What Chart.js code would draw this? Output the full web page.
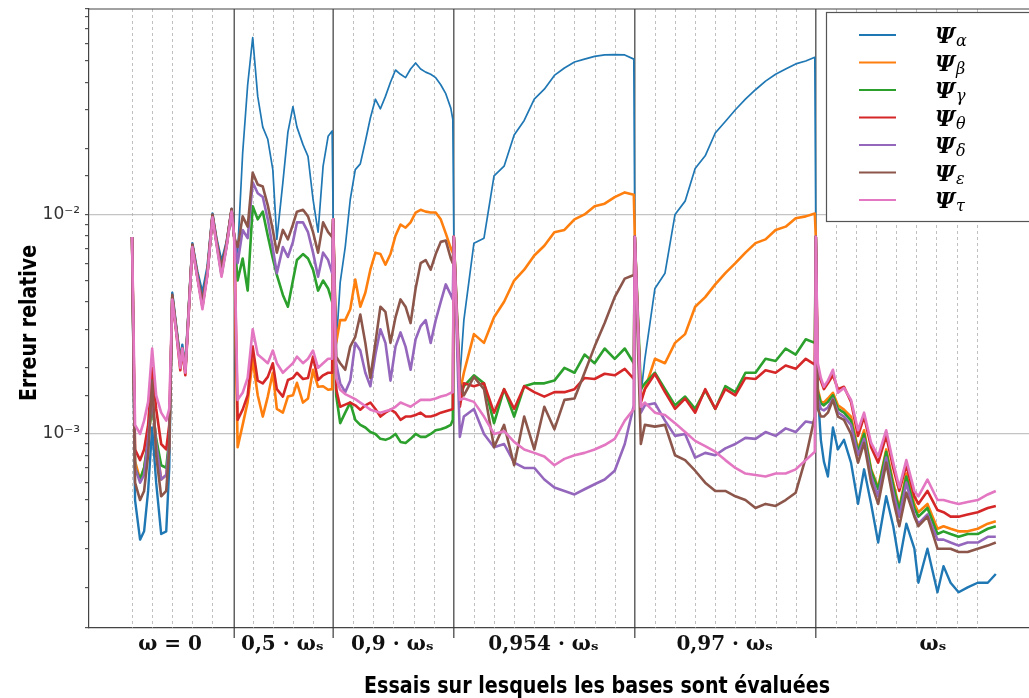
<!DOCTYPE html>
<html>
<head>
<meta charset="utf-8">
<title>Erreur relative des bases</title>
<script src="https://cdn.jsdelivr.net/npm/chart.js@4.4.1/dist/chart.umd.min.js"></script>
<style>
  html, body { margin: 0; padding: 0; background: #fff; }
  canvas { display: block; }
</style>
</head>
<body>
<canvas id="errChart" width="1029" height="698"></canvas>
<script>
// x position of every sample, in "essai" units (one dashed line = one essai)
const essai = [
  0, 0.15, 0.4, 0.6, 0.8, 1.0, 1.2, 1.45, 1.7, 1.85, 2.0, 2.2, 2.4, 2.5, 2.65, 3.0, 3.25, 3.5, 3.75, 4.0, 4.2, 4.45, 4.7, 4.95,
  5.08, 5.25, 5.5, 5.75, 6.0, 6.25, 6.5, 6.75, 7.0, 7.2, 7.5, 7.75, 8.0, 8.2, 8.5, 8.75, 9.0, 9.25, 9.5, 9.75, 9.95,
  10.0, 10.15, 10.35, 10.6, 10.85, 11.1, 11.35, 11.6, 11.85, 12.1, 12.35, 12.6, 12.85, 13.1, 13.35, 13.6, 13.85, 14.1, 14.35, 14.6, 14.85, 15.1, 15.35, 15.6, 15.85, 15.95,
  16.0, 16.3, 16.5, 17.0, 17.5, 18.0, 18.5, 19.0, 19.5, 20.0, 20.5, 21.0, 21.5, 22.0, 22.5, 23.0, 23.5, 24.0, 24.5, 24.95,
  25.0, 25.3, 25.5, 26.0, 26.5, 27.0, 27.5, 28.0, 28.5, 29.0, 29.5, 30.0, 30.5, 31.0, 31.5, 32.0, 32.5, 33.0, 33.5, 33.95,
  34.0, 34.1, 34.25, 34.4, 34.6, 34.85, 35.1, 35.4, 35.75, 36.1, 36.4, 36.75, 37.1, 37.5, 37.85, 38.15, 38.5, 38.9, 39.1, 39.55, 40.05, 40.35, 40.7, 41.1, 41.55, 42.05, 42.55, 42.95
];

// relative error of each basis, in units of 1e-3
const psiAlpha = [
  7.9, 0.5, 0.33, 0.36, 0.55, 1.07, 0.6, 0.35, 0.36, 0.7, 4.4, 3.1, 2.2, 2.55, 2.05, 7.4, 5.5, 4.4, 5.8, 10.1, 7.8, 6.1, 7.5, 10.6,
  7.9, 6.7, 19, 39, 64, 34.5, 25, 22, 16, 7.7, 14, 23.7, 31, 25, 20.8, 18.4, 11.7, 8.3, 16.6, 22.7, 24,
  9.5, 2.5, 4.9, 7.1, 11.7, 16.0, 17.0, 21.5, 27.5, 33.5, 30.3, 34.5, 40.0, 45.5, 43.5, 42.0, 46.0, 49.0, 46.0, 44.5, 43.5, 42.0, 39.0, 35.5, 30.5, 27.1,
  7.9, 1.8, 3.3, 7.4, 7.8, 15.0, 16.6, 23.0, 26.8, 33.5, 37.2, 43.0, 46.5, 49.5, 51.0, 52.5, 53.3, 53.5, 53.3, 51.0,
  7.9, 1.5, 2.2, 4.6, 5.4, 10.0, 11.5, 16.2, 18.5, 23.5, 26.5, 30.0, 33.5, 37.0, 40.5, 43.5, 46.0, 48.5, 50.0, 52.0,
  7.9, 1.54, 0.94, 0.75, 0.64, 1.07, 0.85, 0.94, 0.74, 0.48, 0.69, 0.48, 0.32, 0.52, 0.38, 0.26, 0.39, 0.3, 0.21, 0.3, 0.19, 0.25, 0.21, 0.19, 0.2, 0.21, 0.21, 0.23
];
const psiBeta = [
  7.9, 0.75, 0.62, 0.7, 0.9, 1.5, 0.9, 0.62, 0.65, 0.9, 4.2, 3.0, 2.1, 2.45, 1.95, 7.2, 5.2, 3.9, 5.4, 9.8, 7.5, 5.5, 7.2, 10.4,
  7.9, 0.87, 1.1, 1.4, 2.18, 1.5, 1.2, 1.48, 1.9, 1.3, 1.25, 1.48, 1.5, 1.71, 1.39, 1.45, 1.96, 1.64, 1.65, 1.59, 1.6,
  9.5, 2.6, 3.3, 3.3, 3.7, 5.05, 3.8, 4.4, 5.6, 6.7, 6.6, 5.9, 6.6, 8.0, 9.0, 8.7, 9.2, 10.2, 10.5, 10.3, 10.2, 10.2, 9.5, 8.2, 7.0, 6.7,
  7.9, 1.55, 1.9, 2.85, 2.6, 3.4, 4.0, 5.0, 5.6, 6.5, 7.2, 8.3, 8.5, 9.5, 10.0, 10.9, 11.2, 12.0, 12.6, 12.3,
  7.9, 1.43, 1.6, 2.2, 2.1, 2.6, 2.85, 3.8, 4.2, 4.8, 5.4, 6.0, 6.7, 7.4, 7.7, 8.5, 8.8, 9.6, 9.8, 10.1,
  7.9, 1.6, 1.4, 1.39, 1.45, 1.54, 1.35, 1.29, 1.2, 0.85, 1.04, 0.69, 0.57, 0.85, 0.6, 0.46, 0.66, 0.48, 0.44, 0.48, 0.37, 0.38, 0.37, 0.36, 0.36, 0.37, 0.39, 0.4
];
const psiGamma = [
  7.9, 0.7, 0.62, 0.7, 0.95, 1.35, 0.95, 0.72, 0.7, 0.95, 4.2, 3.0, 2.1, 2.45, 1.95, 7.2, 5.2, 3.85, 5.4, 9.8, 7.4, 5.3, 7.2, 10.4,
  7.9, 5.0, 6.3, 4.5, 10.9, 9.5, 10.3, 8.0, 6.3, 5.3, 4.3, 3.8, 5.0, 6.2, 6.6, 6.3, 5.6, 4.5, 5.0, 4.6, 4.0,
  9.5, 1.5, 1.12, 1.25, 1.39, 1.16, 1.1, 1.07, 1.02, 1.0, 0.95, 0.94, 0.96, 1.0, 0.92, 0.91, 0.95, 1.0, 0.97, 0.97, 1.0, 1.04, 1.05, 1.07, 1.1, 1.16,
  7.9, 1.54, 1.65, 1.85, 1.7, 1.12, 1.6, 1.2, 1.65, 1.7, 1.7, 1.75, 2.0, 1.9, 2.3, 2.1, 2.45, 2.2, 2.45, 2.1,
  7.9, 1.6, 1.7, 1.9, 1.6, 1.35, 1.48, 1.3, 1.58, 1.3, 1.65, 1.55, 1.9, 1.9, 2.2, 2.15, 2.45, 2.3, 2.7, 2.6,
  7.9, 1.55, 1.38, 1.35, 1.4, 1.5, 1.3, 1.25, 1.15, 0.83, 1.0, 0.68, 0.56, 0.83, 0.58, 0.45, 0.64, 0.46, 0.42, 0.46, 0.35, 0.36, 0.35, 0.34, 0.35, 0.35, 0.37, 0.38
];
const psiTheta = [
  7.9, 0.85, 0.76, 0.85, 1.1, 2.0, 1.3, 0.9, 0.85, 1.1, 4.1, 2.9, 1.95, 2.4, 1.85, 7.2, 5.2, 3.8, 5.4, 9.8, 7.5, 5.6, 7.3, 10.5,
  7.9, 1.16, 1.29, 1.5, 2.5, 1.75, 1.7, 1.82, 2.1, 1.6, 1.48, 1.76, 1.8, 1.9, 1.78, 1.8, 2.25, 1.76, 1.85, 1.9, 1.9,
  9.5, 1.6, 1.33, 1.36, 1.39, 1.35, 1.29, 1.35, 1.39, 1.3, 1.2, 1.25, 1.29, 1.25, 1.16, 1.2, 1.2, 1.22, 1.25, 1.2, 1.2, 1.22, 1.25, 1.27, 1.29, 1.3,
  7.9, 1.33, 1.7, 1.65, 1.7, 1.25, 1.6, 1.3, 1.65, 1.55, 1.48, 1.55, 1.55, 1.6, 1.8, 1.78, 1.88, 1.85, 1.98, 1.78,
  7.9, 1.39, 1.6, 1.88, 1.55, 1.3, 1.45, 1.25, 1.6, 1.3, 1.6, 1.5, 1.8, 1.78, 1.95, 1.9, 2.05, 1.98, 2.2, 2.07,
  7.9, 1.9, 1.75, 1.6, 1.7, 1.85, 1.6, 1.64, 1.4, 0.98, 1.2, 0.87, 0.74, 0.98, 0.7, 0.55, 0.72, 0.52, 0.48, 0.55, 0.45, 0.44, 0.42, 0.42, 0.43, 0.44, 0.46, 0.47
];
const psiDelta = [
  7.9, 0.7, 0.6, 0.65, 0.95, 1.5, 0.9, 0.62, 0.65, 0.9, 4.2, 3.0, 2.1, 2.45, 1.95, 7.2, 5.2, 3.9, 5.4, 9.8, 7.5, 5.4, 7.2, 10.4,
  7.9, 6.0, 8.5, 7.8, 14.0, 12.5, 12.0, 9.5, 7.0, 5.4, 7.1, 6.4, 7.5, 9.2, 9.2, 8.3, 6.7, 5.2, 6.7, 6.2, 5.4,
  9.5, 2.1, 1.7, 1.55, 1.75, 2.6, 2.4, 1.9, 1.65, 2.3, 3.0, 2.6, 1.75, 2.5, 2.9, 2.5, 1.96, 2.7, 3.1, 3.3, 2.6, 3.3, 4.0, 4.8, 4.3, 4.1,
  7.9, 0.97, 1.2, 1.3, 1.0, 0.87, 0.9, 0.74, 0.7, 0.7, 0.62, 0.57, 0.55, 0.53, 0.56, 0.59, 0.62, 0.68, 0.9, 1.35,
  7.9, 1.25, 1.35, 1.38, 1.15, 0.98, 1.0, 0.78, 0.82, 0.8, 0.86, 0.9, 0.96, 0.95, 1.02, 0.98, 1.06, 1.02, 1.14, 1.12,
  7.9, 1.45, 1.3, 1.28, 1.32, 1.45, 1.25, 1.2, 1.1, 0.8, 0.95, 0.64, 0.52, 0.78, 0.54, 0.42, 0.6, 0.43, 0.39, 0.43, 0.33, 0.33, 0.32, 0.31, 0.32, 0.32, 0.34, 0.34
];
const psiEpsilon = [
  7.9, 0.6, 0.5, 0.55, 0.8, 1.75, 0.8, 0.52, 0.55, 0.85, 4.3, 3.0, 2.1, 2.45, 1.95, 7.3, 5.3, 4.0, 5.5, 10.0, 7.6, 5.7, 7.4, 10.6,
  7.9, 7.1, 9.8, 8.8, 15.5, 13.7, 13.4, 11.0, 8.5, 6.7, 8.5, 7.7, 9.0, 10.3, 10.5, 9.8, 8.3, 6.7, 9.2, 8.3, 7.9,
  9.5, 2.25, 2.1, 1.96, 2.5, 2.77, 3.5, 2.6, 1.8, 2.6, 3.8, 3.6, 2.6, 3.4, 4.1, 3.8, 3.2, 4.6, 6.0, 6.2, 5.6, 6.6, 7.5, 7.6, 6.3, 6.0,
  7.9, 1.71, 1.5, 1.82, 1.6, 0.87, 1.1, 0.72, 1.2, 0.85, 1.33, 1.05, 1.43, 1.45, 1.9, 2.5, 3.2, 4.2, 5.1, 5.3,
  7.9, 0.9, 1.1, 1.08, 1.1, 0.8, 0.76, 0.68, 0.6, 0.55, 0.55, 0.52, 0.5, 0.46, 0.48, 0.47, 0.5, 0.54, 0.78, 1.2,
  7.9, 1.3, 1.2, 1.2, 1.25, 1.43, 1.2, 1.16, 1.0, 0.74, 0.91, 0.6, 0.48, 0.74, 0.5, 0.38, 0.54, 0.42, 0.38, 0.42, 0.3, 0.3, 0.3, 0.29, 0.29, 0.3, 0.31, 0.32
];
const psiTau = [
  7.9, 1.1, 1.0, 1.15, 1.4, 2.45, 1.5, 1.25, 1.15, 1.3, 4.1, 2.9, 2.0, 2.45, 1.9, 7.1, 5.1, 3.7, 5.3, 9.7, 7.3, 5.2, 7.1, 10.3,
  7.9, 1.43, 1.54, 1.8, 3.0, 2.3, 2.2, 2.1, 2.4, 2.1, 1.9, 2.0, 2.1, 2.25, 2.1, 2.2, 2.4, 2.0, 2.1, 2.2, 2.2,
  9.5, 1.8, 1.59, 1.52, 1.48, 1.44, 1.39, 1.34, 1.29, 1.27, 1.25, 1.27, 1.29, 1.33, 1.39, 1.36, 1.33, 1.38, 1.43, 1.43, 1.43, 1.45, 1.48, 1.5, 1.54, 1.55,
  7.9, 1.43, 1.45, 1.4, 1.2, 1.0, 1.03, 0.92, 0.85, 0.82, 0.79, 0.72, 0.77, 0.8, 0.82, 0.85, 0.89, 0.95, 1.15, 1.3,
  7.9, 1.33, 1.39, 1.25, 1.22, 1.12, 1.02, 0.93, 0.88, 0.83, 0.76, 0.7, 0.66, 0.65, 0.64, 0.66, 0.66, 0.69, 0.76, 0.83,
  7.9, 2.1, 1.8, 1.64, 1.75, 1.96, 1.54, 1.62, 1.43, 1.04, 1.25, 0.91, 0.79, 1.04, 0.74, 0.57, 0.76, 0.55, 0.52, 0.62, 0.5, 0.5, 0.49, 0.48, 0.49, 0.5, 0.53, 0.55
];

const series = [psiAlpha, psiBeta, psiGamma, psiTheta, psiDelta, psiEpsilon, psiTau];
const subscripts = ['α', 'β', 'γ', 'θ', 'δ', 'ε', 'τ'];
const colours = ['#1f77b4', '#ff7f0e', '#2ca02c', '#d62728', '#9467bd', '#8c564b', '#e377c2'];

// groups of essais along x
const categories = ['ω = 0', '0,5 · ωₛ', '0,9 · ωₛ', '0,954 · ωₛ', '0,97 · ωₛ', 'ωₛ'];
const categoryPos = [1.89, 7.47, 12.94, 20.46, 29.47, 39.82];
const segmentEdges = [5.08, 10, 16, 25, 34];
const essaiStarts = [0, 1, 2, 3, 4, 6, 7, 8, 9, 11, 12, 13, 14, 15, 17, 18, 19, 20, 21, 22, 23, 24,
  26, 27, 28, 29, 30, 31, 32, 33, 35, 36, 37, 38, 39, 40, 41, 42];

const yTickValues = [1e-3, 1e-2];
const yTickLabels = ['10⁻³', '10⁻²'];

const xTitle = 'Essais sur lesquels les bases sont évaluées';
const yTitle = 'Erreur relative';

const titleFont = 'bold 23px "Liberation Sans Narrow", "DejaVu Sans Condensed", "Noto Sans", sans-serif';

function isDecade(v) {
  const l = Math.log10(v);
  return Math.abs(l - Math.round(l)) < 1e-6;
}

// the smooth rising parts of Ψα are drawn thinner than its noisy parts
function alphaWidth(ctx) {
  const x = ctx.p0.parsed.x;
  return (x < 5 || x >= 34) ? 2.4 : 1.7;
}

// dashed line at each essai, solid line between groups
const essaiLines = {
  id: 'essaiLines',
  beforeDatasetsDraw(chart) {
    const { ctx, chartArea: a, scales: { x } } = chart;
    ctx.save();
    ctx.lineWidth = 0.8;
    ctx.strokeStyle = '#b0b0b0';
    ctx.setLineDash([3, 3]);
    essaiStarts.forEach(v => {
      const px = Math.round(x.getPixelForValue(v)) + 0.5;
      ctx.beginPath();
      ctx.moveTo(px, a.top);
      ctx.lineTo(px, a.bottom);
      ctx.stroke();
    });
    ctx.setLineDash([]);
    ctx.lineWidth = 1.2;
    ctx.strokeStyle = '#3a3a3a';
    segmentEdges.forEach(v => {
      const px = x.getPixelForValue(v);
      ctx.beginPath();
      ctx.moveTo(px, a.top);
      ctx.lineTo(px, a.bottom + 10);
      ctx.stroke();
    });
    ctx.restore();
  }
};

// top spine, legend box and axis titles
const decorations = {
  id: 'decorations',
  afterDraw(chart) {
    const { ctx, chartArea: a } = chart;
    ctx.save();
    ctx.strokeStyle = '#444';
    ctx.lineWidth = 1.2;
    ctx.beginPath();
    ctx.moveTo(a.left, a.top);
    ctx.lineTo(a.right, a.top);
    ctx.stroke();

    ctx.fillStyle = '#fff';
    ctx.strokeStyle = '#555';
    ctx.lineWidth = 1.2;
    ctx.fillRect(826.5, 12.5, 215, 209);
    ctx.strokeRect(826.5, 12.5, 215, 209);
    chart.data.datasets.forEach((ds, i) => {
      const y = 35 + i * 27.5;
      ctx.strokeStyle = ds.borderColor;
      ctx.lineWidth = 2;
      ctx.beginPath();
      ctx.moveTo(859, y);
      ctx.lineTo(896, y);
      ctx.stroke();
      ctx.fillStyle = '#000';
      ctx.textAlign = 'left';
      ctx.textBaseline = 'alphabetic';
      ctx.font = 'italic bold 22px "DejaVu Serif", serif';
      ctx.fillText('Ψ', 935, y + 8);
      ctx.font = 'italic 16px "DejaVu Serif", serif';
      ctx.fillText(subscripts[i], 956, y + 11);
    });

    ctx.fillStyle = '#000';
    ctx.font = titleFont;
    ctx.textAlign = 'center';
    ctx.textBaseline = 'alphabetic';
    let w = ctx.measureText(xTitle).width;
    ctx.save();
    ctx.translate(597, 693);
    ctx.scale(466 / w, 1);
    ctx.fillText(xTitle, 0, 0);
    ctx.restore();

    w = ctx.measureText(yTitle).width;
    ctx.translate(36, 323);
    ctx.rotate(-Math.PI / 2);
    ctx.scale(156 / w, 1);
    ctx.fillText(yTitle, 0, 0);
    ctx.restore();
  }
};

new Chart(document.getElementById('errChart'), {
  type: 'line',
  data: {
    datasets: series.map((vals, i) => ({
      label: 'Ψ' + subscripts[i],
      data: essai.map((x, k) => ({ x: x, y: vals[k] * 1e-3 })),
      borderColor: colours[i],
      borderWidth: i === 0 ? 1.8 : 2.6,
      segment: i === 0 ? { borderWidth: alphaWidth } : undefined,
      borderJoinStyle: 'round',
      pointRadius: 0,
      tension: 0,
      fill: false,
      order: series.length - 1 - i
    }))
  },
  options: {
    responsive: false,
    animation: false,
    devicePixelRatio: 1,
    layout: { padding: { top: 9, right: 0, bottom: 0, left: 0 } },
    plugins: {
      legend: { display: false },
      tooltip: { enabled: false }
    },
    scales: {
      x: {
        type: 'linear',
        min: -2.14,
        max: 44.6,
        afterBuildTicks: scale => { scale.ticks = categoryPos.map(v => ({ value: v })); },
        afterFit: scale => { scale.height = 70; },
        grid: { display: false, drawTicks: false },
        border: { color: '#444', width: 1.2 },
        ticks: {
          autoSkip: false,
          maxRotation: 0,
          padding: 5,
          color: '#111',
          font: { family: '"DejaVu Serif", serif', size: 20, weight: 'bold' },
          callback: (v, i) => categories[i]
        }
      },
      y: {
        type: 'logarithmic',
        min: 1.306e-4,
        max: 8.63e-2,
        afterFit: scale => { scale.width = 89; },
        grid: {
          color: c => (c.tick && isDecade(c.tick.value)) ? '#c4c4c4' : 'rgba(0,0,0,0)',
          lineWidth: 1.2,
          tickColor: '#555',
          tickLength: 4
        },
        border: { color: '#444', width: 1.2 },
        ticks: {
          autoSkip: false,
          padding: 5,
          color: '#333',
          font: { family: '"DejaVu Sans", sans-serif', size: 17, lineHeight: 0.3 },
          callback: v => {
            const k = yTickValues.findIndex(t => Math.abs(v / t - 1) < 1e-6);
            return k < 0 ? '' : yTickLabels[k];
          }
        }
      }
    }
  },
  plugins: [essaiLines, decorations]
});
</script>
</body>
</html>
